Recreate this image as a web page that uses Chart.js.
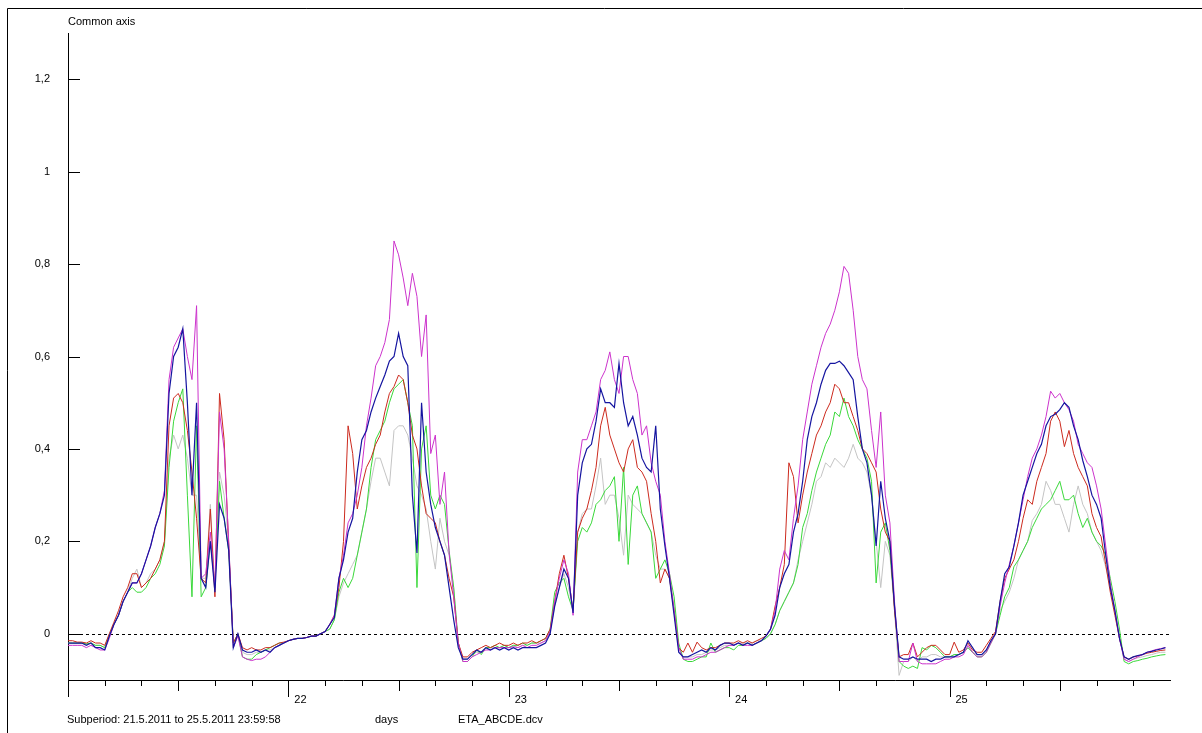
<!DOCTYPE html>
<html>
<head>
<meta charset="utf-8">
<title>ETA_ABCDE.dcv</title>
<script src="https://cdn.jsdelivr.net/npm/chart.js@4.4.0/dist/chart.umd.min.js"></script>
<style>
  html, body { margin: 0; padding: 0; background: #fff; }
  #wrap { position: relative; width: 1202px; height: 733px; }
</style>
</head>
<body>
<div id="wrap"><canvas id="line-chart"></canvas></div>
<script>
// readings every half hour, 21.5.2011 00:00 .. 25.5.2011 23:30
var STEP_HOURS = 0.5;
var FIRST_DAY = 21;
var HOURS_SHOWN = 120;
var yTicks = [0, 0.2, 0.4, 0.6, 0.8, 1, 1.2];
var seriesNames = ['A', 'B', 'C', 'D', 'E'];

var blueSeries = [
  -0.02,-0.02,-0.02,-0.02,-0.025,-0.02,-0.03,-0.03,-0.035,-0.005,0.02,0.04,
  0.07,0.09,0.11,0.11,0.13,0.16,0.19,0.23,0.26,0.3,0.52,0.6,
  0.62,0.66,0.5,0.3,0.5,0.12,0.1,0.2,0.09,0.28,0.25,0.18,
  -0.03,0,-0.035,-0.04,-0.04,-0.035,-0.04,-0.035,-0.04,-0.03,-0.025,-0.02,
  -0.015,-0.012,-0.01,-0.01,-0.008,-0.005,-0.005,0,0.005,0.02,0.035,0.12,
  0.16,0.22,0.25,0.35,0.42,0.44,0.48,0.51,0.535,0.56,0.59,0.6,
  0.65,0.6,0.58,0.3,0.175,0.5,0.35,0.28,0.23,0.2,0.17,0.1,
  0.03,-0.03,-0.055,-0.055,-0.045,-0.035,-0.04,-0.03,-0.035,-0.03,-0.035,-0.03,
  -0.035,-0.03,-0.035,-0.03,-0.03,-0.03,-0.03,-0.025,-0.02,0,0.06,0.1,
  0.14,0.12,0.045,0.3,0.37,0.4,0.41,0.46,0.53,0.5,0.5,0.49,
  0.585,0.5,0.45,0.47,0.43,0.38,0.36,0.35,0.45,0.27,0.19,0.12,
  0.04,-0.04,-0.05,-0.05,-0.045,-0.04,-0.035,-0.04,-0.03,-0.035,-0.025,-0.02,
  -0.02,-0.025,-0.02,-0.025,-0.02,-0.025,-0.02,-0.015,-0.005,0.01,0.04,0.1,
  0.13,0.15,0.22,0.26,0.33,0.42,0.47,0.5,0.54,0.57,0.585,0.585,
  0.59,0.58,0.565,0.55,0.47,0.4,0.37,0.3,0.19,0.33,0.25,0.2,
  0.06,-0.05,-0.055,-0.055,-0.05,-0.055,-0.055,-0.055,-0.06,-0.055,-0.055,-0.05,
  -0.05,-0.05,-0.045,-0.04,-0.015,-0.03,-0.045,-0.045,-0.035,-0.015,0,0.07,
  0.13,0.145,0.19,0.24,0.3,0.33,0.36,0.39,0.41,0.45,0.47,0.475,
  0.485,0.5,0.49,0.45,0.42,0.375,0.34,0.3,0.28,0.25,0.17,0.1,
  0.05,-0.01,-0.05,-0.055,-0.05,-0.047,-0.045,-0.04,-0.038,-0.035,-0.033,-0.03
];

var magentaSeries = [
  -0.025,-0.025,-0.025,-0.025,-0.03,-0.025,-0.03,-0.035,-0.035,-0.01,0.02,0.04,
  0.07,0.09,0.11,0.11,0.13,0.16,0.19,0.23,0.26,0.31,0.55,0.62,
  0.64,0.66,0.6,0.55,0.71,0.12,0.13,0.22,0.1,0.48,0.4,0.2,
  -0.03,-0.005,-0.05,-0.055,-0.058,-0.055,-0.055,-0.05,-0.04,-0.03,-0.025,-0.02,
  -0.015,-0.012,-0.01,-0.01,-0.008,-0.005,-0.005,0,0.005,0.02,0.04,0.12,
  0.17,0.24,0.26,0.3,0.36,0.45,0.51,0.58,0.6,0.63,0.68,0.85,
  0.82,0.77,0.71,0.78,0.73,0.6,0.69,0.39,0.43,0.28,0.35,0.175,
  0.08,-0.02,-0.06,-0.06,-0.05,-0.045,-0.04,-0.035,-0.035,-0.03,-0.03,-0.03,
  -0.03,-0.028,-0.03,-0.025,-0.03,-0.025,-0.025,-0.02,-0.015,0.005,0.07,0.12,
  0.16,0.13,0.04,0.35,0.42,0.42,0.45,0.48,0.55,0.57,0.61,0.55,
  0.52,0.6,0.6,0.55,0.52,0.43,0.45,0.37,0.33,0.3,0.2,0.13,
  0.05,-0.03,-0.055,-0.055,-0.055,-0.05,-0.05,-0.045,-0.04,-0.04,-0.035,-0.03,
  -0.025,-0.025,-0.02,-0.025,-0.025,-0.025,-0.02,-0.015,-0.005,0.01,0.05,0.14,
  0.18,0.16,0.25,0.32,0.42,0.48,0.54,0.58,0.62,0.65,0.67,0.7,
  0.74,0.795,0.78,0.7,0.6,0.55,0.53,0.44,0.36,0.48,0.3,0.24,
  0.07,-0.06,-0.06,-0.06,-0.02,-0.06,-0.065,-0.065,-0.065,-0.065,-0.06,-0.055,
  -0.055,-0.05,-0.05,-0.045,-0.025,-0.04,-0.05,-0.05,-0.04,-0.02,0,0.06,
  0.11,0.15,0.19,0.24,0.29,0.34,0.38,0.4,0.43,0.47,0.525,0.51,
  0.52,0.5,0.485,0.46,0.41,0.39,0.37,0.36,0.32,0.27,0.19,0.11,
  0.05,-0.01,-0.055,-0.06,-0.055,-0.05,-0.045,-0.04,-0.037,-0.034,-0.032,-0.03
];

var redSeries = [
  -0.015,-0.015,-0.018,-0.018,-0.02,-0.015,-0.02,-0.02,-0.025,0,0.025,0.05,
  0.08,0.1,0.13,0.13,0.1,0.11,0.12,0.14,0.16,0.2,0.45,0.51,
  0.52,0.5,0.44,0.35,0.25,0.12,0.11,0.27,0.08,0.52,0.42,0.19,
  -0.02,0,-0.03,-0.035,-0.03,-0.035,-0.035,-0.03,-0.03,-0.025,-0.02,-0.018,
  -0.015,-0.012,-0.01,-0.01,-0.008,-0.005,-0.005,0,0.005,0.02,0.04,0.1,
  0.2,0.45,0.39,0.27,0.32,0.36,0.38,0.41,0.43,0.48,0.52,0.535,
  0.56,0.55,0.5,0.43,0.4,0.32,0.26,0.25,0.24,0.2,0.17,0.12,
  0.08,-0.02,-0.05,-0.05,-0.04,-0.035,-0.03,-0.025,-0.03,-0.025,-0.02,-0.025,
  -0.025,-0.02,-0.025,-0.02,-0.02,-0.015,-0.02,-0.015,-0.01,0.01,0.07,0.13,
  0.17,0.12,0.05,0.22,0.25,0.27,0.31,0.36,0.45,0.49,0.43,0.4,
  0.37,0.35,0.4,0.42,0.36,0.35,0.33,0.26,0.2,0.11,0.14,0.12,
  0.05,-0.03,-0.04,-0.02,-0.04,-0.018,-0.03,-0.035,-0.03,-0.03,-0.025,-0.02,
  -0.02,-0.02,-0.015,-0.02,-0.015,-0.02,-0.015,-0.01,-0.005,0.01,0.06,0.1,
  0.15,0.37,0.34,0.24,0.3,0.35,0.39,0.43,0.45,0.48,0.5,0.54,
  0.53,0.5,0.5,0.47,0.44,0.4,0.39,0.37,0.35,0.27,0.22,0.2,
  0.05,-0.05,-0.045,-0.045,-0.02,-0.05,-0.04,-0.03,-0.025,-0.025,-0.035,-0.045,
  -0.045,-0.018,-0.04,-0.035,-0.02,-0.035,-0.04,-0.04,-0.025,-0.01,0.005,0.07,
  0.12,0.14,0.16,0.2,0.25,0.29,0.28,0.33,0.36,0.39,0.46,0.48,
  0.46,0.405,0.44,0.39,0.36,0.34,0.32,0.26,0.23,0.21,0.15,0.09,
  0.04,-0.01,-0.05,-0.055,-0.05,-0.048,-0.045,-0.042,-0.04,-0.038,-0.036,-0.035
];

var greenSeries = [
  -0.02,-0.02,-0.02,-0.02,-0.022,-0.02,-0.025,-0.025,-0.03,-0.005,0.02,0.04,
  0.07,0.09,0.1,0.09,0.09,0.1,0.12,0.13,0.15,0.19,0.36,0.46,
  0.5,0.53,0.3,0.08,0.45,0.08,0.1,0.2,0.1,0.33,0.25,0.18,
  -0.02,0,-0.05,-0.055,-0.055,-0.045,-0.04,-0.035,-0.03,-0.025,-0.02,-0.02,
  -0.015,-0.012,-0.01,-0.01,-0.008,-0.005,-0.005,0,0.005,0.01,0.03,0.09,
  0.12,0.1,0.12,0.17,0.22,0.27,0.36,0.42,0.44,0.46,0.5,0.53,
  0.54,0.55,0.5,0.45,0.1,0.4,0.45,0.3,0.27,0.3,0.28,0.18,
  0.1,-0.02,-0.06,-0.06,-0.05,-0.035,-0.045,-0.03,-0.03,-0.025,-0.03,-0.025,
  -0.03,-0.025,-0.025,-0.02,-0.025,-0.02,-0.02,-0.015,-0.01,0.01,0.09,0.11,
  0.12,0.08,0.05,0.2,0.23,0.22,0.24,0.28,0.29,0.31,0.32,0.34,
  0.2,0.36,0.15,0.3,0.32,0.26,0.24,0.22,0.12,0.14,0.16,0.13,
  0.08,-0.02,-0.055,-0.06,-0.06,-0.055,-0.05,-0.05,-0.02,-0.04,-0.035,-0.03,
  -0.03,-0.035,-0.025,-0.025,-0.02,-0.025,-0.02,-0.015,-0.01,0,0.02,0.05,
  0.07,0.09,0.11,0.15,0.23,0.26,0.31,0.35,0.38,0.41,0.43,0.48,
  0.47,0.51,0.47,0.45,0.42,0.4,0.38,0.33,0.11,0.22,0.24,0.18,
  0.06,-0.06,-0.07,-0.075,-0.07,-0.075,-0.03,-0.035,-0.025,-0.03,-0.04,-0.05,
  -0.05,-0.045,-0.045,-0.04,-0.03,-0.04,-0.05,-0.05,-0.04,-0.02,0,0.04,
  0.08,0.1,0.145,0.16,0.18,0.2,0.23,0.25,0.27,0.28,0.29,0.31,
  0.33,0.29,0.29,0.3,0.26,0.23,0.25,0.22,0.2,0.19,0.17,0.12,
  0.07,0.01,-0.06,-0.065,-0.06,-0.058,-0.055,-0.053,-0.05,-0.048,-0.046,-0.045
];

var graySeries = [
  -0.02,-0.02,-0.02,-0.02,-0.022,-0.02,-0.025,-0.025,-0.03,0,0.02,0.04,
  0.07,0.09,0.12,0.14,0.1,0.11,0.13,0.14,0.16,0.2,0.38,0.43,
  0.4,0.43,0.38,0.3,0.3,0.12,0.12,0.28,0.1,0.35,0.3,0.2,
  -0.03,0,-0.04,-0.045,-0.045,-0.04,-0.04,-0.035,-0.035,-0.03,-0.025,-0.02,
  -0.015,-0.012,-0.01,-0.01,-0.008,-0.005,-0.005,0,0.005,0.01,0.03,0.08,
  0.11,0.13,0.15,0.17,0.22,0.27,0.33,0.38,0.38,0.35,0.32,0.44,
  0.45,0.45,0.43,0.38,0.32,0.3,0.27,0.2,0.14,0.25,0.2,0.17,
  0.1,-0.02,-0.055,-0.055,-0.045,-0.04,-0.04,-0.03,-0.03,-0.03,-0.03,-0.025,
  -0.03,-0.025,-0.03,-0.025,-0.025,-0.02,-0.02,-0.02,-0.015,0.005,0.06,0.1,
  0.13,0.1,0.05,0.22,0.26,0.27,0.27,0.32,0.38,0.28,0.3,0.3,
  0.25,0.17,0.3,0.28,0.27,0.26,0.24,0.22,0.17,0.14,0.14,0.12,
  0.06,-0.03,-0.05,-0.05,-0.05,-0.045,-0.045,-0.04,-0.035,-0.035,-0.03,-0.025,
  -0.025,-0.025,-0.02,-0.02,-0.02,-0.02,-0.015,-0.015,-0.01,0,0.02,0.05,
  0.07,0.09,0.11,0.16,0.2,0.24,0.28,0.33,0.34,0.37,0.36,0.38,
  0.37,0.36,0.38,0.41,0.38,0.37,0.35,0.3,0.2,0.1,0.2,0.17,
  0.05,-0.09,-0.06,-0.06,-0.05,-0.06,-0.05,-0.05,-0.045,-0.045,-0.05,-0.05,
  -0.05,-0.045,-0.045,-0.04,-0.03,-0.04,-0.045,-0.045,-0.035,-0.015,0,0.05,
  0.07,0.09,0.12,0.16,0.18,0.2,0.245,0.26,0.28,0.33,0.31,0.28,
  0.28,0.25,0.22,0.28,0.32,0.28,0.26,0.22,0.2,0.18,0.145,0.1,
  0.05,-0.01,-0.055,-0.06,-0.055,-0.052,-0.05,-0.047,-0.045,-0.042,-0.04,-0.04
];

var axisTitle = 'Common axis';
var footerPeriod = 'Subperiod: 21.5.2011 to 25.5.2011 23:59:58';
var footerUnit = 'days';
var footerFile = 'ETA_ABCDE.dcv';

var FONT = '"Liberation Sans", Arial, sans-serif';

function toPoints(values) {
  return values.map(function (v, i) { return { x: i * STEP_HOURS, y: v }; });
}

function lineSet(name, values, color, width) {
  return {
    label: name,
    data: toPoints(values),
    borderColor: color,
    borderWidth: width,
    pointRadius: 0,
    tension: 0,
    fill: false
  };
}

// frame, zero line, inward / stepped tick marks and the loose captions
var decorations = {
  id: 'decorations',
  beforeDatasetsDraw: function (chart) {
    var ctx = chart.ctx, area = chart.chartArea;
    var y0 = Math.round(chart.scales.y.getPixelForValue(0)) + 0.5;
    ctx.save();
    ctx.strokeStyle = '#000';
    ctx.lineWidth = 1;
    ctx.setLineDash([3, 3]);
    ctx.beginPath();
    ctx.moveTo(area.left, y0);
    ctx.lineTo(area.right, y0);
    ctx.stroke();
    ctx.restore();
  },
  afterDraw: function (chart) {
    var ctx = chart.ctx, area = chart.chartArea;
    var xs = chart.scales.x, ys = chart.scales.y;
    ctx.save();
    ctx.strokeStyle = '#000';
    ctx.lineWidth = 1;
    ctx.beginPath();
    ctx.moveTo(7.5, chart.height);
    ctx.lineTo(7.5, 8.5);
    ctx.lineTo(chart.width, 8.5);
    ys.ticks.forEach(function (t) {
      var py = Math.round(ys.getPixelForValue(t.value)) + 0.5;
      ctx.moveTo(area.left, py);
      ctx.lineTo(area.left + 12, py);
    });
    xs.ticks.forEach(function (t) {
      if (t.value >= HOURS_SHOWN) return;
      var len = t.value % 24 === 0 ? 17 : (t.value % 12 === 0 ? 11 : 6);
      var px = Math.round(xs.getPixelForValue(t.value)) + 0.5;
      ctx.moveTo(px, area.bottom);
      ctx.lineTo(px, area.bottom + len);
    });
    ctx.stroke();

    ctx.fillStyle = '#000';
    ctx.font = '11px ' + FONT;
    ctx.textAlign = 'left';
    ctx.textBaseline = 'middle';
    ctx.fillText(axisTitle, 68, 22);
    ctx.fillText(footerPeriod, 67, 720);
    ctx.fillText(footerUnit, 375, 720);
    ctx.fillText(footerFile, 458, 720);
    ctx.restore();
  }
};

new Chart(document.getElementById('line-chart'), {
  type: 'line',
  data: {
    datasets: [
      lineSet(seriesNames[0], blueSeries, '#1515a0', 1.2),
      lineSet(seriesNames[1], magentaSeries, '#cc33cc', 1),
      lineSet(seriesNames[2], redSeries, '#cc2a1e', 1),
      lineSet(seriesNames[3], greenSeries, '#3ad83a', 1),
      lineSet(seriesNames[4], graySeries, '#c4c4c4', 1)
    ]
  },
  options: {
    responsive: true,
    maintainAspectRatio: false,
    animation: false,
    layout: { padding: { left: 0, top: 33, right: 32, bottom: 0 } },
    plugins: {
      legend: { display: false },
      tooltip: { enabled: false }
    },
    scales: {
      x: {
        type: 'linear',
        min: 0,
        max: HOURS_SHOWN,
        afterFit: function (s) { s.height = 53; },
        grid: { display: false, drawTicks: false },
        border: { display: true, color: '#000', width: 1 },
        ticks: {
          stepSize: 4,
          autoSkip: false,
          maxRotation: 0,
          padding: 13,
          labelOffset: 12,
          color: '#000',
          font: { family: FONT, size: 11 },
          callback: function (v) {
            return (v % 24 === 0 && v > 0 && v < HOURS_SHOWN) ? String(FIRST_DAY + v / 24) : '';
          }
        }
      },
      y: {
        min: -0.1,
        max: 1.3,
        afterFit: function (s) { s.width = 68; },
        afterBuildTicks: function (s) {
          s.ticks = yTicks.map(function (v) { return { value: v }; });
        },
        grid: { display: false, drawTicks: false },
        border: { display: true, color: '#000', width: 1 },
        ticks: {
          padding: 18,
          color: '#000',
          font: { family: FONT, size: 11 },
          callback: function (v) {
            return String(Math.round(v * 10) / 10).replace('.', ',');
          }
        }
      }
    }
  },
  plugins: [decorations]
});
</script>
</body>
</html>
